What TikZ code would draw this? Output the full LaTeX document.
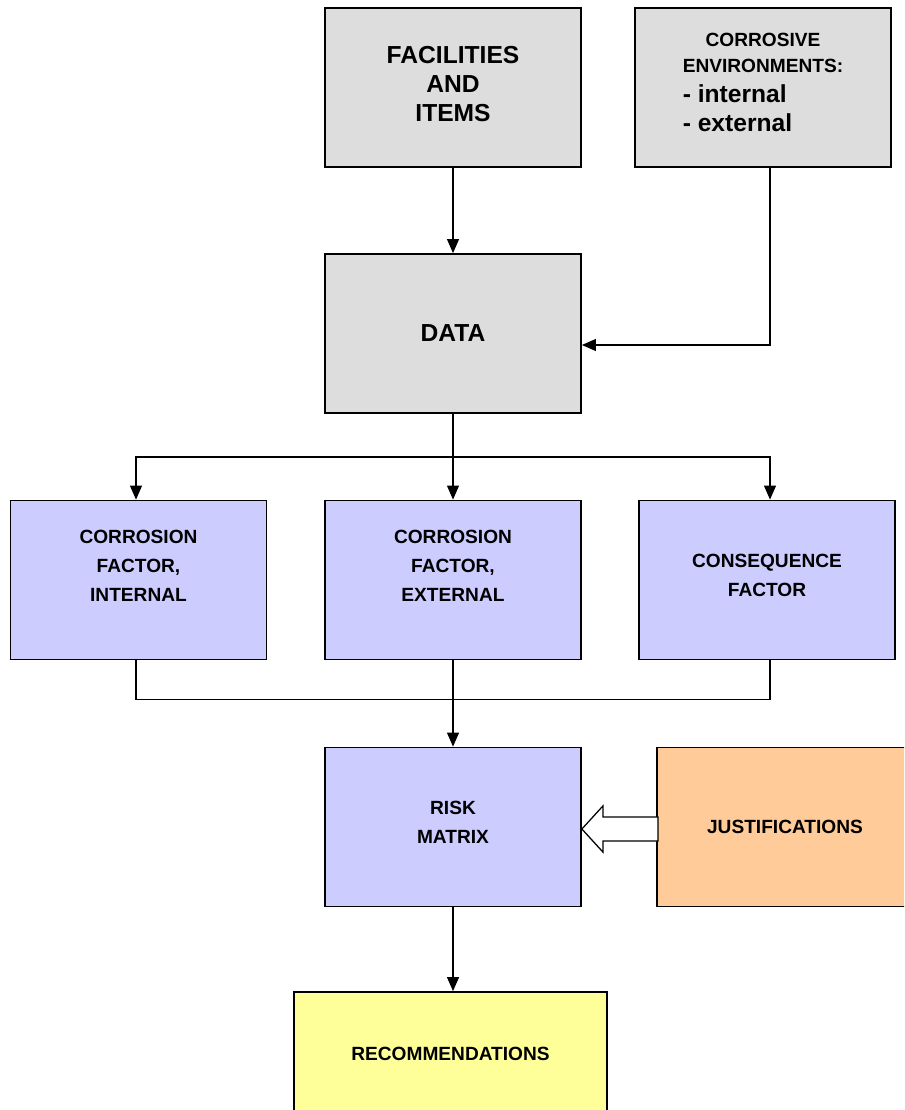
\documentclass[tikz,border=0pt]{standalone}
\usepackage{fontspec}
\setmainfont{Liberation Sans}
\usetikzlibrary{calc,arrows.meta}

\definecolor{inputgrey}{HTML}{DDDDDD}
\definecolor{factorblue}{HTML}{CCCCFF}
\definecolor{justorange}{HTML}{FFCC99}
\definecolor{recyellow}{HTML}{FFFF99}

\newcommand{\bigtxt}{\fontsize{17.5}{20.6}\selectfont\bfseries}
\newcommand{\smalltxt}{\fontsize{13.6}{20.6}\selectfont\bfseries}

\begin{document}
\begin{tikzpicture}[x=0.025cm,y=-0.025cm,
  box/.style={draw,line width=1.2pt,minimum width=6.4cm,minimum height=3.975cm,align=center,inner sep=0pt},
  conn/.style={line width=0.9pt,-{Triangle[length=10pt,width=8.5pt]}},
  wire/.style={line width=0.9pt},
  hollowarrow/.style={draw,fill=white,line width=0.9pt,line join=miter}]
  \clip (0,0) rectangle (904,1110);

  % inputs
  \node[box,fill=inputgrey,font=\bigtxt] (fac) at (453,87.5) {FACILITIES\\AND\\ITEMS\\[-15pt]~};
  \node[box,fill=inputgrey,font=\smalltxt] (env) at (763,87.5)
    {\begin{tabular}{@{}l@{}}
      \multicolumn{1}{@{}c@{}}{CORROSIVE}\\[-2pt]
      \multicolumn{1}{@{}c@{}}{ENVIRONMENTS:}\\[1pt]
      {\bigtxt - internal}\\
      {\bigtxt - external}\\[6pt]
    \end{tabular}};
  \node[box,fill=inputgrey,font=\bigtxt] (data) at (453,333.5) {DATA};

  % factors
  \node[box,fill=factorblue,font=\smalltxt] (cfi) at (138.5,580) {CORROSION\\FACTOR,\\INTERNAL\\~};
  \node[box,fill=factorblue,font=\smalltxt] (cfe) at (453,580) {CORROSION\\FACTOR,\\EXTERNAL\\~};
  \node[box,fill=factorblue,font=\smalltxt] (cons) at (767,580) {CONSEQUENCE\\FACTOR\\[-14pt]~};

  % results
  \node[box,fill=factorblue,font=\smalltxt] (risk) at (453,827) {RISK\\MATRIX\\[-14pt]~};
  \node[box,fill=justorange,font=\smalltxt] (just) at (785,827) {JUSTIFICATIONS};
  \node[box,fill=recyellow,font=\smalltxt,minimum width=7.825cm,minimum height=3.1cm] (rec) at (450.5,1054) {RECOMMENDATIONS};

  % connectors
  \coordinate (envout) at ($(env.south)+(7,0)$);
  \coordinate (datain) at ($(data.east)+(0,11.5)$);
  \coordinate (split) at ($(data.south)+(0,43)$);
  \coordinate (merge) at ($(risk.north)+(0,-47)$);
  \coordinate (jtip) at ($(risk.east)+(0,2)$);
  \coordinate (cfitop) at ($(cfi.north)+(-2.5,0)$);
  \coordinate (constop) at ($(cons.north)+(3,0)$);

  \draw[conn] (fac) -- (data);
  \draw[conn] (envout) |- (datain);
  \draw[conn] (data) -- (cfe);
  \draw[conn] (split) -| (cfitop);
  \draw[conn] (split) -| (constop);
  \draw[wire] (cfitop |- cfi.south) |- (merge) -| (constop |- cons.south);
  \draw[conn] (cfe) -- (risk);
  \draw[hollowarrow] (jtip) -- ++(21,-23) -- ++(0,11) -- ++(55,0) -- ++(0,24) -- ++(-55,0) -- ++(0,11) -- cycle;
  \draw[conn] (risk.south) -- (risk.south |- rec.north);
\end{tikzpicture}
\end{document}
